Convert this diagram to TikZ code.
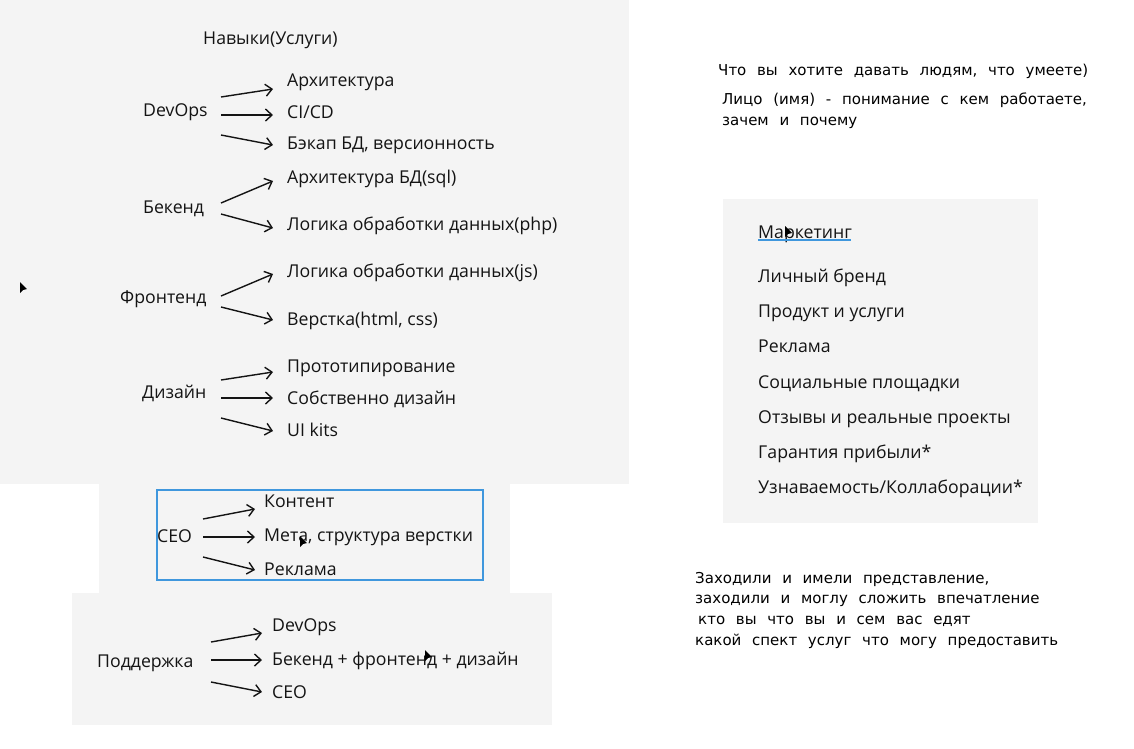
\documentclass[tikz,border=0pt]{standalone}
\usepackage{fontspec}
\setmainfont{Open Sans}
\newfontfamily\dejavu[WordSpace=2.25]{DejaVu Sans}
\usetikzlibrary{arrows.meta}
\definecolor{panel}{HTML}{F4F4F4}
\definecolor{selblue}{HTML}{3F97DD}
\definecolor{ink}{HTML}{141414}
\begin{document}
\begin{tikzpicture}[x=1pt,y=-1pt,
  lbl/.style={anchor=west,inner sep=0pt,text=ink,text height=12.5pt,text depth=0pt,
    font=\fontsize{17.7}{20}\selectfont},
  note/.style={anchor=west,inner sep=0pt,text=black,text height=10.5pt,text depth=0pt,
    font=\dejavu\fontsize{15}{18}\selectfont},
  arr/.style={-{Straight Barb[length=6.5pt,width=12pt]},line width=1.4pt,draw=ink},
  cursor/.style={fill=black,draw=none}]
\useasboundingbox (0,0) rectangle (1134,748);
\fill[white] (0,0) rectangle (1134,748);
% panels
\fill[panel] (0,0) rectangle (629,484);
\fill[panel] (99,484) rectangle (510,593);
\fill[panel] (72,593) rectangle (552,725);
\fill[panel] (723,199) rectangle (1038,523);
\draw[selblue,line width=1.3pt] (157,490) rectangle (483,580);

% title
\node[lbl] (title) at (203,38) {Навыки(Услуги)};

% DevOps
\node[lbl] (dev) at (143,110) {DevOps};
\coordinate (devO) at (221,110);
\node[lbl] (arch) at (287,80) {Архитектура};
\node[lbl] (cicd) at (287,112) {CI/CD};
\node[lbl] (backup) at (287,143) {Бэкап БД, версионность};
\draw[arr] ([yshift=13pt]devO) -- ([shift={(-14,9)}]arch.west);
\draw[arr] ([yshift=-5pt]devO) -- ([shift={(-14,3)}]cicd.west);
\draw[arr] ([yshift=-25pt]devO) -- ([shift={(-14,2)}]backup.west);

% Backend
\node[lbl] (back) at (143,207) {Бекенд};
\coordinate (backO) at (221,207);
\node[lbl] (dbarch) at (287,177) {Архитектура БД(sql)};
\node[lbl] (php) at (287,224) {Логика обработки данных(php)};
\draw[arr] ([yshift=4pt]backO) -- ([shift={(-14,4)}]dbarch.west);
\draw[arr] ([yshift=-7pt]backO) -- ([shift={(-14,4)}]php.west);

% Frontend
\node[lbl] (front) at (120,297) {Фронтенд};
\coordinate (frontO) at (221,297);
\node[lbl] (js) at (287,271) {Логика обработки данных(js)};
\node[lbl] (html) at (287,319) {Верстка(html, css)};
\draw[arr] ([yshift=1pt]frontO) -- ([shift={(-14,3)}]js.west);
\draw[arr] ([yshift=-10pt]frontO) -- ([shift={(-14,1)}]html.west);

% Design
\node[lbl] (des) at (142,392) {Дизайн};
\coordinate (desO) at (221,392);
\node[lbl] (proto) at (287,366) {Прототипирование};
\node[lbl] (own) at (287,398) {Собственно дизайн};
\node[lbl] (ui) at (287,430) {UI kits};
\draw[arr] ([yshift=12pt]desO) -- ([shift={(-14,6)}]proto.west);
\draw[arr] ([yshift=-6pt]desO) -- ([shift={(-14,0)}]own.west);
\draw[arr] ([yshift=-26pt]desO) -- ([shift={(-14,1)}]ui.west);

% SEO
\node[lbl] (seo) at (157,536) {СЕО};
\coordinate (seoO) at (203,536);
\node[lbl] (cont) at (264,501) {Контент};
\node[lbl] (meta) at (264,535) {Мета, структура верстки};
\node[lbl] (ads) at (264,569) {Реклама};
\draw[arr] ([yshift=17pt]seoO) -- ([shift={(-9,8)}]cont.west);
\draw[arr] ([yshift=-1pt]seoO) -- ([shift={(-9,2)}]meta.west);
\draw[arr] ([yshift=-21pt]seoO) -- ([shift={(-9,1)}]ads.west);

% Support
\node[lbl] (sup) at (97,661) {Поддержка};
\coordinate (supO) at (211,661);
\node[lbl] (sdev) at (272,625) {DevOps};
\node[lbl] (sall) at (272,659) {Бекенд + фронтенд + дизайн};
\node[lbl] (sseo) at (272,692) {CEO};
\draw[arr] ([yshift=19pt]supO) -- ([shift={(-10,8)}]sdev.west);
\draw[arr] ([yshift=1pt]supO) -- ([shift={(-10,1)}]sall.west);
\draw[arr] ([yshift=-21pt]supO) -- ([shift={(-10,0)}]sseo.west);

% Marketing list
\node[lbl] (mk) at (758,232) {Маркетинг};
\draw[selblue,line width=1.6pt] ([yshift=-1.8pt]mk.south west) -- ++(93,0);
\node[lbl] (m1) at (758,276) {Личный бренд};
\node[lbl] (m2) at (758,311) {Продукт и услуги};
\node[lbl] (m3) at (758,346) {Реклама};
\node[lbl] (m4) at (758,382) {Социальные площадки};
\node[lbl] (m5) at (758,417) {Отзывы и реальные проекты};
\node[lbl] (m6) at (758,452) {Гарантия прибыли*};
\node[lbl] (m7) at (758,487) {Узнаваемость/Коллаборации*};

% notes
\node[note] (n1) at (718,70) {Что вы хотите давать людям, что умеете)};
\node[note] (n2) at (722,99) {Лицо (имя) - понимание с кем работаете,};
\node[note] (n3) at (722,120) {зачем и почему};
\node[note] (b1) at (695,578) {Заходили и имели представление,};
\node[note] (b2) at (695,598) {заходили и моглу сложить впечатление};
\node[note] (b3) at (698,619) {кто вы что вы и сем вас едят};
\node[note] (b4) at (695,640) {какой спект услуг что могу предоставить};

% mouse cursors
\fill[cursor] (20,282) -- (20,293) -- (23,290) -- (27,289) -- cycle;
\fill[cursor] (300,536) -- (300,547) -- (303,544) -- (307,543) -- cycle;
\fill[cursor] (425,650) -- (425,661) -- (428,658) -- (432,657) -- cycle;
\fill[cursor] (785,226) -- (785,237) -- (788,234) -- (792,233) -- cycle;
\end{tikzpicture}
\end{document}
